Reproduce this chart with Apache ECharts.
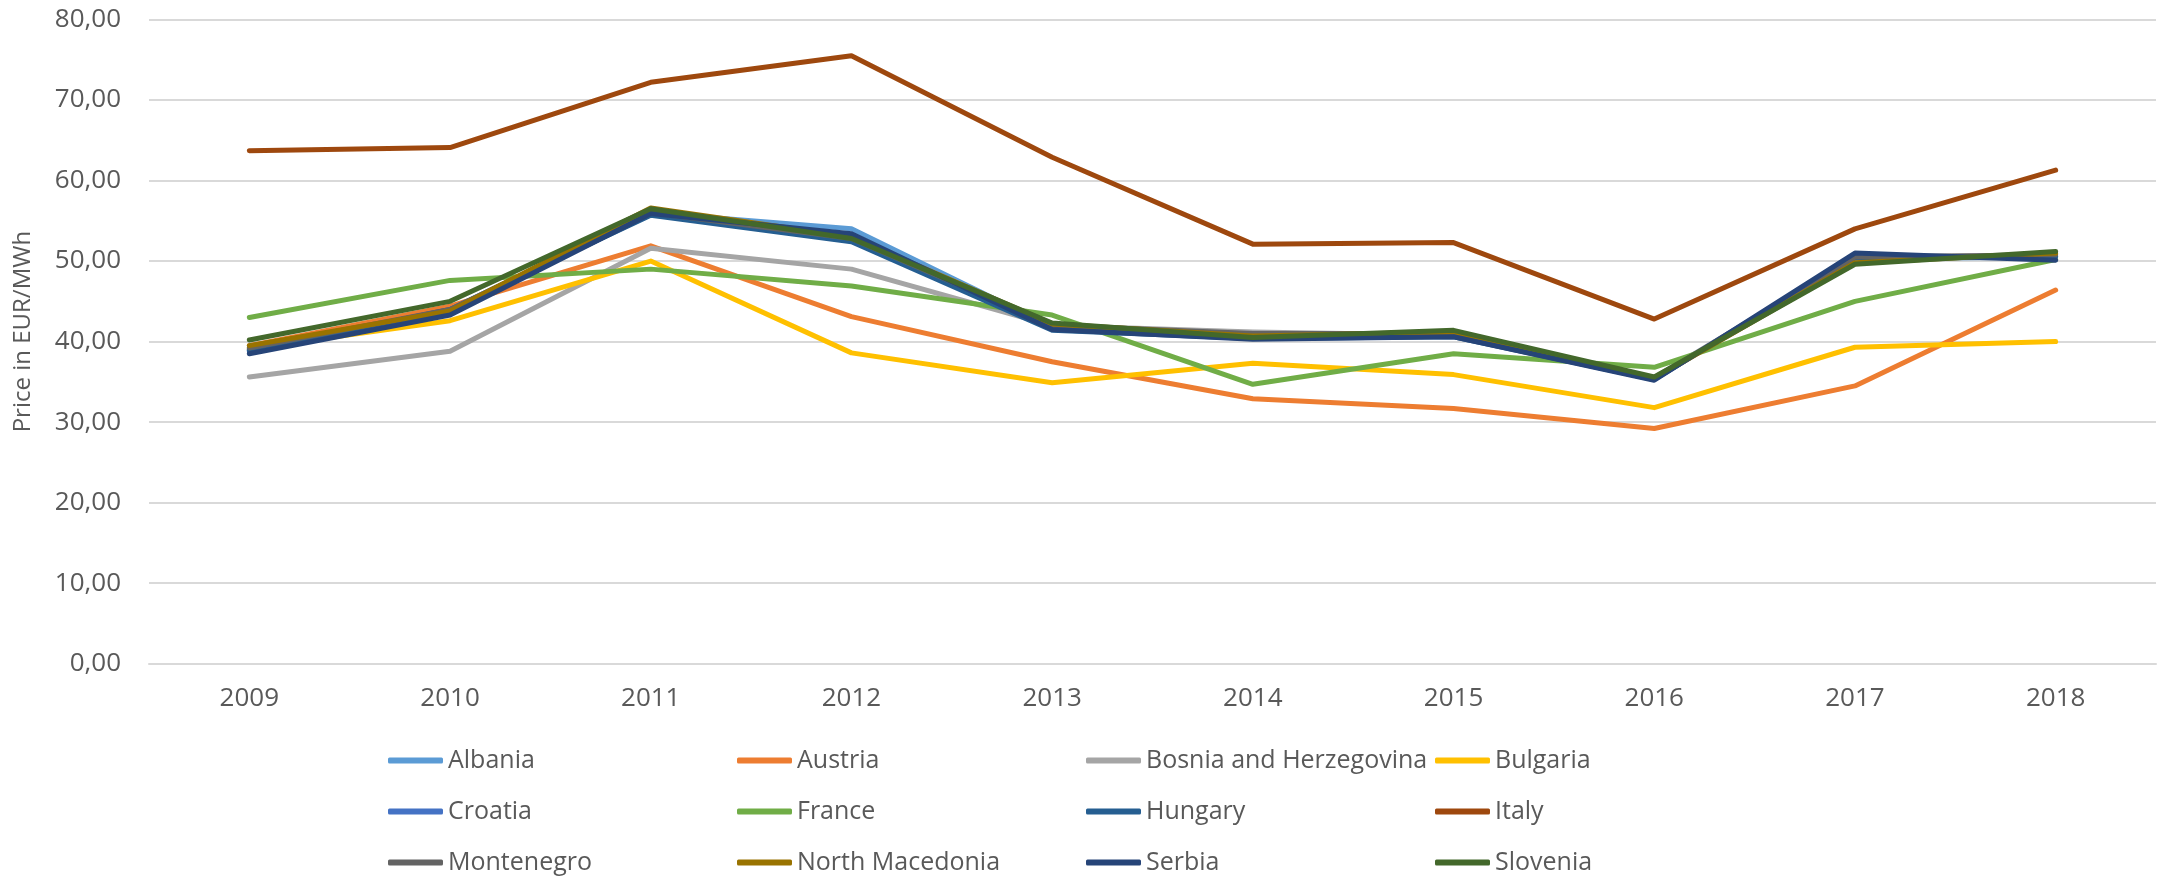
<!DOCTYPE html>
<html>
<head>
<meta charset="utf-8">
<script src="https://cdn.jsdelivr.net/npm/echarts@6/dist/echarts.min.js"></script>
<style>
html,body{margin:0;padding:0;background:#fff;}
#chart{width:2163px;height:879px;}
</style>
</head>
<body>
<div id="chart"></div>
<script>
const years = ['2009','2010','2011','2012','2013','2014','2015','2016','2017','2018'];
const yTicks = [0,10,20,30,40,50,60,70,80];

const albania        = [39.0, 44.0, 56.0, 54.0, 41.8, 40.8, 41.0, 35.5, 50.3, 50.5];
const austria        = [39.5, 44.4, 51.9, 43.1, 37.5, 32.9, 31.7, 29.2, 34.5, 46.4];
const bosnia         = [35.6, 38.8, 51.6, 49.0, 42.0, 41.2, 40.8, 35.5, 50.5, 50.7];
const bulgaria       = [39.1, 42.6, 50.0, 38.6, 34.9, 37.3, 35.9, 31.8, 39.3, 40.0];
const croatia        = [38.8, 43.9, 55.8, 52.5, 41.6, 40.5, 40.7, 35.3, 50.6, 50.5];
const france         = [43.0, 47.6, 49.0, 46.9, 43.3, 34.7, 38.5, 36.8, 45.0, 50.2];
const hungary        = [38.9, 44.0, 55.7, 52.4, 41.4, 40.4, 40.6, 35.3, 50.4, 50.6];
const italy          = [63.7, 64.1, 72.2, 75.5, 62.9, 52.1, 52.3, 42.8, 54.0, 61.3];
const montenegro     = [39.2, 44.0, 56.0, 52.8, 42.0, 41.0, 41.0, 35.4, 50.5, 50.8];
const northMacedonia = [39.5, 43.8, 56.6, 53.0, 42.2, 40.7, 41.2, 35.4, 49.8, 51.0];
const serbia         = [38.5, 43.3, 55.9, 53.4, 41.5, 40.3, 40.6, 35.2, 51.0, 50.1];
const slovenia       = [40.2, 45.0, 56.5, 52.8, 42.3, 40.5, 41.4, 35.6, 49.6, 51.2];

const seriesDefs = [
  ['Albania', albania, '#5B9BD5'],
  ['Austria', austria, '#ED7D31'],
  ['Bosnia and Herzegovina', bosnia, '#A5A5A5'],
  ['Bulgaria', bulgaria, '#FFC000'],
  ['Croatia', croatia, '#4472C4'],
  ['France', france, '#70AD47'],
  ['Hungary', hungary, '#255E91'],
  ['Italy', italy, '#9E480E'],
  ['Montenegro', montenegro, '#636363'],
  ['North Macedonia', northMacedonia, '#997300'],
  ['Serbia', serbia, '#264478'],
  ['Slovenia', slovenia, '#43682B']
];

const FONT = 'Open Sans';
const chart = echarts.init(document.getElementById('chart'));
chart.setOption({
  animation: false,
  backgroundColor: '#ffffff',
  grid: { left: 149, right: 7, top: 19.5, bottom: 215.3, containLabel: false },
  legend: {
    left: 388, top: 735, width: 1400, padding: 0, itemGap: 0,
    itemWidth: 55, itemHeight: 6, icon: 'roundRect',
    data: seriesDefs.map(d => d[0]),
    textStyle: { fontFamily: FONT, fontSize: 25, color: '#595959', width: 289, lineHeight: 51, overflow: 'none' }
  },
  xAxis: {
    type: 'category', data: years, boundaryGap: true,
    axisLine: { show: true, lineStyle: { color: '#d9d9d9', width: 2 } },
    axisTick: { show: false },
    axisLabel: { fontFamily: FONT, fontSize: 26, color: '#595959', margin: 22 }
  },
  yAxis: {
    type: 'value', min: yTicks[0], max: yTicks[yTicks.length - 1], interval: 10,
    name: 'Price in EUR/MWh', nameLocation: 'middle', nameGap: 114, nameRotate: 90,
    nameTextStyle: { fontFamily: FONT, fontSize: 24, color: '#595959', padding: [0, 0, 0, 20] },
    axisLine: { show: false }, axisTick: { show: false },
    splitLine: { lineStyle: { color: '#d9d9d9', width: 2 } },
    axisLabel: { fontFamily: FONT, fontSize: 26, color: '#595959', margin: 28,
      formatter: v => v.toFixed(2).replace('.', ',') }
  },
  series: seriesDefs.map(d => ({
    name: d[0], type: 'line', data: d[1], symbol: 'none',
    color: d[2],
    lineStyle: { color: d[2], width: 5, cap: 'round', join: 'round' }
  }))
});
</script>
</body>
</html>
